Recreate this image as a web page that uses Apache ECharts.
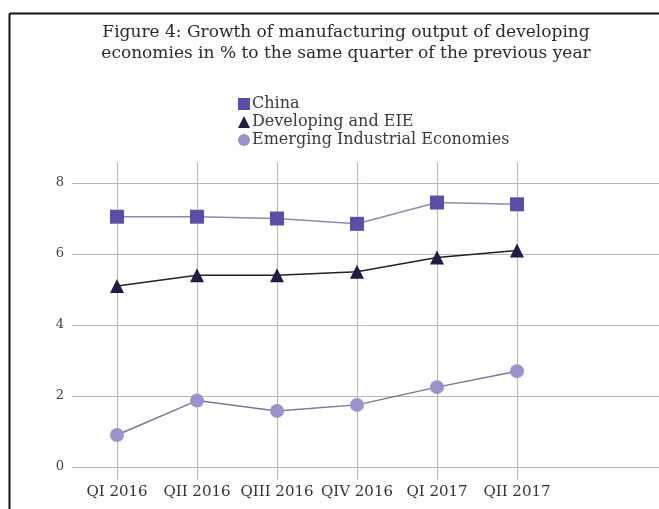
<!DOCTYPE html>
<html><head><meta charset="utf-8">
<script src="https://cdn.jsdelivr.net/npm/echarts@6/dist/echarts.min.js"></script>
<style>html,body{margin:0;padding:0;background:#fff}#c{width:659px;height:509px}</style>
</head><body><div id="c"></div>
<script>
const categories = ["QI 2016","QII 2016","QIII 2016","QIV 2016","QI 2017","QII 2017"];
const china = [7.05, 7.05, 7.0, 6.85, 7.45, 7.4];
const developing = [5.1, 5.4, 5.4, 5.5, 5.9, 6.1];
const emerging = [0.9, 1.87, 1.58, 1.75, 2.25, 2.7];
const seriesNames = ["China", "Developing and EIE", "Emerging Industrial Economies"];
const titleLines = ["Figure 4: Growth of manufacturing output of developing", "economies in % to the same quarter of the previous year"];

const serif = "'DejaVu Serif', 'Liberation Serif', serif";
const chart = echarts.init(document.getElementById('c'));
chart.setOption({
  backgroundColor: '#fff',
  animation: false,
  title: {
    text: titleLines.join('\n'),
    left: 341, top: 17, textAlign: 'center',
    textStyle: { fontFamily: serif, fontSize: 17, fontWeight: 'normal', color: '#2a2a2a', lineHeight: 21 }
  },
  legend: {
    orient: 'vertical', left: 233, top: 91, itemGap: 2, itemWidth: 12, itemHeight: 12,
    data: [
      { name: seriesNames[0], icon: 'rect' },
      { name: seriesNames[1], icon: 'triangle' },
      { name: seriesNames[2], icon: 'circle' }
    ],
    textStyle: { fontFamily: serif, fontSize: 16, color: '#3a3a3a', padding: [0,0,0,-3] }
  },
  graphic: [
    { type: 'line', shape: { x1: 9.5, y1: 13.5, x2: 659, y2: 13.5 }, style: { stroke: '#111', lineWidth: 2 } },
    { type: 'line', shape: { x1: 9.5, y1: 13.5, x2: 9.5, y2: 509 }, style: { stroke: '#111', lineWidth: 2 } }
  ],
  grid: [
    { left: 72, right: 0, top: 183, height: 284 },
    { left: 117, width: 400, top: 183, height: 284 }
  ],
  xAxis: [
    { gridIndex: 0, type: 'value', min: 0, max: 1, show: false },
    { gridIndex: 1, type: 'category', data: categories, boundaryGap: false, position: 'bottom',
      axisLine: { show: false },
      axisTick: { show: true, length: 13, lineStyle: { color: '#b8b8b8' } },
      splitLine: { show: true, interval: 0, lineStyle: { color: '#b8b8b8' } },
      axisLabel: { margin: 18, fontFamily: serif, fontSize: 15, color: '#333', interval: 0 } },
    { gridIndex: 1, type: 'category', data: categories, boundaryGap: false, position: 'top',
      axisLine: { show: false }, axisLabel: { show: false },
      axisTick: { show: true, length: 21, lineStyle: { color: '#b8b8b8' } } }
  ],
  yAxis: [
    { gridIndex: 0, type: 'value', min: 0, max: 8, interval: 2,
      axisLine: { show: false }, axisTick: { show: false },
      splitLine: { lineStyle: { color: '#b8b8b8' } },
      axisLabel: { margin: 8, fontFamily: serif, fontSize: 13, color: '#444' } },
    { gridIndex: 1, type: 'value', min: 0, max: 8, interval: 2, show: false, splitLine: { show: false } }
  ],
  series: [
    { name: seriesNames[0], type: 'line', xAxisIndex: 1, yAxisIndex: 1, data: china,
      symbol: 'rect', symbolSize: 14, itemStyle: { color: '#5a4ea6' },
      lineStyle: { color: '#8e8aa8', width: 1.5 } },
    { name: seriesNames[1], type: 'line', xAxisIndex: 1, yAxisIndex: 1, data: developing,
      symbol: 'triangle', symbolSize: 14, itemStyle: { color: '#1f1c48' },
      lineStyle: { color: '#222', width: 1.5 } },
    { name: seriesNames[2], type: 'line', xAxisIndex: 1, yAxisIndex: 1, data: emerging,
      symbol: 'circle', symbolSize: 14, itemStyle: { color: '#9a94cc' },
      lineStyle: { color: '#7a7596', width: 1.5 } }
  ]
});
</script>
</body></html>
